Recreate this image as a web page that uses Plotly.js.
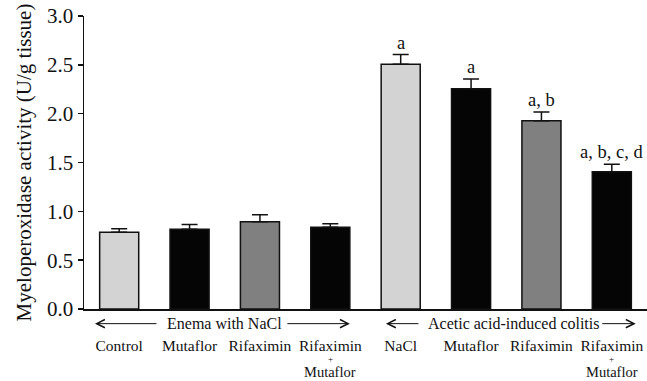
<!DOCTYPE html>
<html>
<head>
<meta charset="utf-8">
<script src="https://cdn.plot.ly/plotly-3.0.1.min.js"></script>
<style>html,body{margin:0;padding:0;background:#fff}#chart{width:647px;height:381px}</style>
</head>
<body>
<div id="chart"></div>
<script>
// Data
var categories = ['Control', 'Mutaflor', 'Rifaximin', 'Rifaximin', 'NaCl', 'Mutaflor', 'Rifaximin', 'Rifaximin'];
var values = [0.785, 0.816, 0.894, 0.836, 2.505, 2.256, 1.928, 1.406];
var errors = [0.037, 0.05, 0.072, 0.037, 0.1, 0.1, 0.09, 0.075];
var sigLabels = ['', '', '', '', 'a', 'a', 'a, b', 'a, b, c, d'];
var barColors = ['#d3d3d3', '#050505', '#808080', '#050505', '#d3d3d3', '#050505', '#808080', '#050505'];
var groups = ['Enema with NaCl', 'Acetic acid-induced colitis'];
var groupCenters = [1.5, 5.6];
var subLabelIdx = [3, 7];
var yTicks = [0, 0.5, 1.0, 1.5, 2.0, 2.5, 3.0];

var FONT = '"Liberation Serif", "Times New Roman", serif';
var idx = categories.map(function (_, i) { return i; });

var trace = {
  type: 'bar',
  x: idx,
  y: values,
  width: 0.555,
  marker: { color: barColors, line: { color: '#111', width: 1.5 } },
  error_y: {
    type: 'data', symmetric: false, array: errors,
    arrayminus: errors.map(function () { return 0; }),
    color: '#111', thickness: 1.5, width: 8
  },
  hoverinfo: 'skip'
};

var annotations = [];
idx.forEach(function (i) {
  if (sigLabels[i]) {
    annotations.push({
      x: i, y: values[i] + errors[i], xref: 'x', yref: 'y',
      text: sigLabels[i], showarrow: false, yanchor: 'bottom', yshift: 0,
      font: { family: FONT, size: 18.5, color: '#111' }
    });
  }
});
// "+ Mutaflor" sub lines under the combined-treatment ticks
subLabelIdx.forEach(function (i) {
  annotations.push({
    x: i, y: -0.172, xref: 'x', yref: 'paper', text: '+', showarrow: false,
    yanchor: 'middle', borderpad: 0, font: { family: FONT, size: 9, color: '#111' }
  });
  annotations.push({
    x: i, y: -0.214, xref: 'x', yref: 'paper', text: 'Mutaflor', showarrow: false,
    yanchor: 'middle', borderpad: 0, font: { family: FONT, size: 14.5, color: '#111' }
  });
});
// group labels with arrows
var gy = -0.05;
groups.forEach(function (g, k) {
  annotations.push({
    x: groupCenters[k], y: gy, xref: 'x', yref: 'paper', text: g, showarrow: false,
    yanchor: 'middle', font: { family: FONT, size: 16, color: '#111' }
  });
});
var arrowSpecs = [
  { x: -0.344, ax: 63 }, { x: 3.278, ax: -64 },
  { x: 3.79, ax: 34 }, { x: 7.34, ax: -35 }
];
arrowSpecs.forEach(function (a) {
  annotations.push({
    x: a.x, y: gy, xref: 'x', yref: 'paper', ax: a.ax, ay: 0, text: '',
    showarrow: true, arrowhead: 5, arrowsize: 1.6, arrowwidth: 1, arrowcolor: '#111'
  });
});

var layout = {
  width: 647, height: 381,
  margin: { l: 84, r: 0, t: 16, b: 72 },
  paper_bgcolor: '#fff', plot_bgcolor: '#fff',
  showlegend: false,
  font: { family: FONT, color: '#111' },
  xaxis: {
    range: [-0.5, 7.5], tickvals: idx, ticktext: categories,
    showline: true, linecolor: '#111', linewidth: 1.5,
    ticks: '', showgrid: false, zeroline: false,
    tickfont: { family: FONT, size: 15.5, color: '#111' },
    ticklabelstandoff: 22, fixedrange: true
  },
  yaxis: {
    range: [0, 3], tickvals: yTicks, tickformat: '.1f',
    showline: true, linecolor: '#111', linewidth: 1.5,
    ticks: 'outside', ticklen: 5, tickwidth: 1.5, tickcolor: '#111',
    showgrid: false, zeroline: false,
    tickfont: { family: FONT, size: 21, color: '#111' },
    title: { text: 'Myeloperoxidase activity (U/g tissue)', font: { family: FONT, size: 21, color: '#111' }, standoff: 9 },
    fixedrange: true
  },
  annotations: annotations,
  bargap: 0.4
};

Plotly.newPlot('chart', [trace], layout, { staticPlot: true, displayModeBar: false });
</script>
</body>
</html>
